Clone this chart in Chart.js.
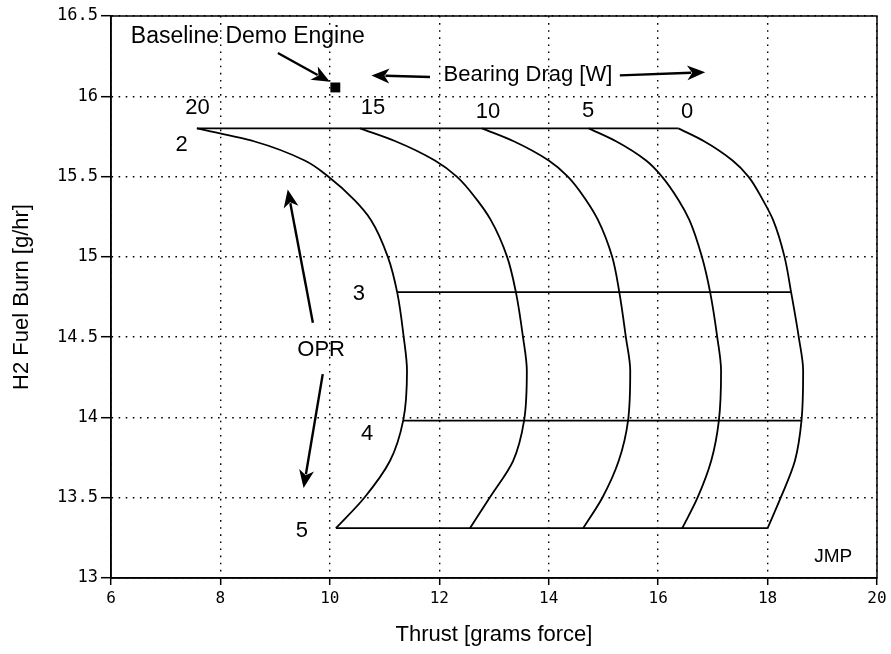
<!DOCTYPE html>
<html>
<head>
<meta charset="utf-8">
<script src="https://cdn.jsdelivr.net/npm/chart.js@4/dist/chart.umd.min.js"></script>
<style>
  html, body { margin: 0; padding: 0; background: #fff; }
  #wrap { width: 891px; height: 654px; }
</style>
</head>
<body>
<div id="wrap"><canvas id="chart" width="891" height="654"></canvas></div>
<script>
// fuel burn levels shared by the bearing drag curves (g/hr)
const burnLevels = [15.80, 15.72, 15.60, 15.50, 15.35, 15.23, 15.00, 14.78, 14.50, 14.29, 13.98, 13.73, 13.50, 13.31];

// thrust along each bearing drag curve (grams force)
const dragLabels = ['20', '15', '10', '5', '0'];
const thrustDrag20 = [7.57, 8.61, 9.54, 9.97, 10.46, 10.75, 11.06, 11.23, 11.35, 11.41, 11.34, 11.10, 10.63, 10.11];
const thrustDrag15 = [10.55, 11.20, 11.92, 12.32, 12.70, 12.94, 13.24, 13.40, 13.53, 13.60, 13.55, 13.35, 12.92, 12.56];
const thrustDrag10 = [12.78, 13.36, 14.00, 14.35, 14.69, 14.90, 15.16, 15.29, 15.41, 15.49, 15.45, 15.28, 14.98, 14.63];
const thrustDrag5  = [14.73, 15.23, 15.78, 16.07, 16.38, 16.57, 16.80, 16.95, 17.08, 17.15, 17.11, 16.97, 16.72, 16.44];
const thrustDrag0  = [16.37, 16.84, 17.36, 17.65, 17.92, 18.10, 18.31, 18.43, 18.57, 18.65, 18.62, 18.50, 18.24, 18.00];

// constant OPR lines: burn level and thrust span
const oprLabels = ['2', '3', '4', '5'];
const oprBurn = [15.80, 14.78, 13.98, 13.31];
const oprThrustStart = [7.57, 11.23, 11.34, 10.11];
const oprThrustEnd = [16.37, 18.43, 18.62, 18.00];

// baseline demo engine point
const baselineThrust = [10.10];
const baselineBurn = [16.055];

const xTicks = [6, 8, 10, 12, 14, 16, 18, 20];
const yTicks = [13, 13.5, 14, 14.5, 15, 15.5, 16, 16.5];

// text and arrows, in data coordinates
const notes = [
  { text: 'Baseline Demo Engine', x: 8.50, y: 16.37, size: 23 },
  { text: 'Bearing Drag [W]', x: 13.62, y: 16.13 },
  { text: '20', x: 7.58, y: 15.93 },
  { text: '15', x: 10.79, y: 15.93 },
  { text: '10', x: 12.89, y: 15.90 },
  { text: '5', x: 14.72, y: 15.91 },
  { text: '0', x: 16.53, y: 15.90 },
  { text: '2', x: 7.29, y: 15.70 },
  { text: '3', x: 10.53, y: 14.77 },
  { text: '4', x: 10.68, y: 13.90 },
  { text: '5', x: 9.49, y: 13.29 },
  { text: 'OPR', x: 9.84, y: 14.42 },
  { text: 'JMP', x: 19.20, y: 13.13, size: 19 }
];
const arrows = [
  { from: [9.05, 16.27], to: [10.00, 16.09] },
  { from: [11.83, 16.12], to: [10.76, 16.13] },
  { from: [15.30, 16.13], to: [16.86, 16.15] },
  { from: [9.69, 14.59], to: [9.23, 15.42] },
  { from: [9.87, 14.27], to: [9.52, 13.56] }
];

const curves = [thrustDrag20, thrustDrag15, thrustDrag10, thrustDrag5, thrustDrag0];

const datasets = [];
curves.forEach((xs, i) => {
  datasets.push({
    type: 'line',
    label: 'Drag ' + dragLabels[i],
    data: xs.map((x, j) => ({ x: x, y: burnLevels[j] })),
    indexAxis: 'y',
    borderColor: '#000',
    borderWidth: 1.8,
    pointRadius: 0,
    fill: false,
    cubicInterpolationMode: 'monotone'
  });
});
oprBurn.forEach((b, i) => {
  datasets.push({
    type: 'line',
    label: 'OPR ' + oprLabels[i],
    data: [{ x: oprThrustStart[i], y: b }, { x: oprThrustEnd[i], y: b }],
    borderColor: '#000',
    borderWidth: 1.8,
    pointRadius: 0,
    fill: false,
    tension: 0
  });
});
datasets.push({
  label: 'Baseline Demo Engine',
  data: baselineThrust.map((x, i) => ({ x: x, y: baselineBurn[i] })),
  showLine: false,
  pointStyle: 'rect',
  pointRadius: 7,
  backgroundColor: '#000',
  borderColor: '#000',
  borderWidth: 0
});

const notesPlugin = {
  id: 'notes',
  afterDatasetsDraw(chart) {
    const ctx = chart.ctx;
    const xs = chart.scales.x, ys = chart.scales.y;
    const a = chart.chartArea;
    ctx.save();
    // solid frame
    ctx.strokeStyle = '#000';
    ctx.lineWidth = 1.5;
    ctx.strokeRect(a.left, a.top, a.right - a.left, a.bottom - a.top);

    ctx.fillStyle = '#000';
    ctx.textAlign = 'center';
    ctx.textBaseline = 'middle';
    notes.forEach(n => {
      ctx.font = (n.size || 22) + 'px "Liberation Sans", Arial, sans-serif';
      ctx.fillText(n.text, xs.getPixelForValue(n.x), ys.getPixelForValue(n.y));
    });

    arrows.forEach(ar => {
      const x1 = xs.getPixelForValue(ar.from[0]), y1 = ys.getPixelForValue(ar.from[1]);
      const x2 = xs.getPixelForValue(ar.to[0]), y2 = ys.getPixelForValue(ar.to[1]);
      const ang = Math.atan2(y2 - y1, x2 - x1);
      const len = 18, half = 7.5;
      const bx = x2 - len * Math.cos(ang), by = y2 - len * Math.sin(ang);
      ctx.lineWidth = 2.4;
      ctx.beginPath();
      ctx.moveTo(x1, y1);
      ctx.lineTo(bx + 4 * Math.cos(ang), by + 4 * Math.sin(ang));
      ctx.stroke();
      ctx.beginPath();
      ctx.moveTo(x2, y2);
      ctx.lineTo(bx - half * Math.sin(ang), by + half * Math.cos(ang));
      ctx.lineTo(bx + 5 * Math.cos(ang), by + 5 * Math.sin(ang));
      ctx.lineTo(bx + half * Math.sin(ang), by - half * Math.cos(ang));
      ctx.closePath();
      ctx.fill();
    });
    ctx.restore();
  }
};

const xTickFont = { family: '"DejaVu Sans Mono", monospace', size: 16 };
const yTickFont = { family: '"DejaVu Sans Mono", monospace', size: 17 };
const titleFont = { family: '"Liberation Sans", Arial, sans-serif', size: 22 };

new Chart(document.getElementById('chart').getContext('2d'), {
  type: 'scatter',
  data: { datasets: datasets },
  options: {
    responsive: false,
    animation: false,
    layout: { padding: { left: 0, right: 14, top: 16, bottom: 0 } },
    plugins: { legend: { display: false }, tooltip: { enabled: false } },
    scales: {
      x: {
        type: 'linear',
        min: 6, max: 20,
        afterBuildTicks: s => { s.ticks = xTicks.map(v => ({ value: v })); },
        afterFit: s => { s.height = 76; },
        ticks: { color: '#000', font: xTickFont, padding: 4, maxRotation: 0, callback: v => String(v) },
        grid: { color: '#000', lineWidth: 1.4, drawTicks: true, tickLength: 7, tickColor: '#000', tickWidth: 1.5, tickBorderDash: [] },
        border: { display: true, color: '#000', width: 1.5, dash: [1.6, 5.5] },
        title: { display: true, text: 'Thrust [grams force]', color: '#000', font: titleFont, padding: { bottom: 6 } }
      },
      y: {
        type: 'linear',
        min: 13, max: 16.5,
        afterBuildTicks: s => { s.ticks = yTicks.map(v => ({ value: v })); },
        afterFit: s => { s.width = 111; },
        ticks: { color: '#000', font: yTickFont, padding: 3, callback: v => String(v) },
        grid: { color: '#000', lineWidth: 1.4, drawTicks: true, tickLength: 10, tickColor: '#000', tickWidth: 1.5, tickBorderDash: [] },
        border: { display: true, color: '#000', width: 1.5, dash: [1.6, 5.5] },
        title: { display: true, text: 'H2 Fuel Burn [g/hr]', color: '#000', font: titleFont, padding: { top: 9 } }
      }
    }
  },
  plugins: [notesPlugin]
});
</script>
</body>
</html>
